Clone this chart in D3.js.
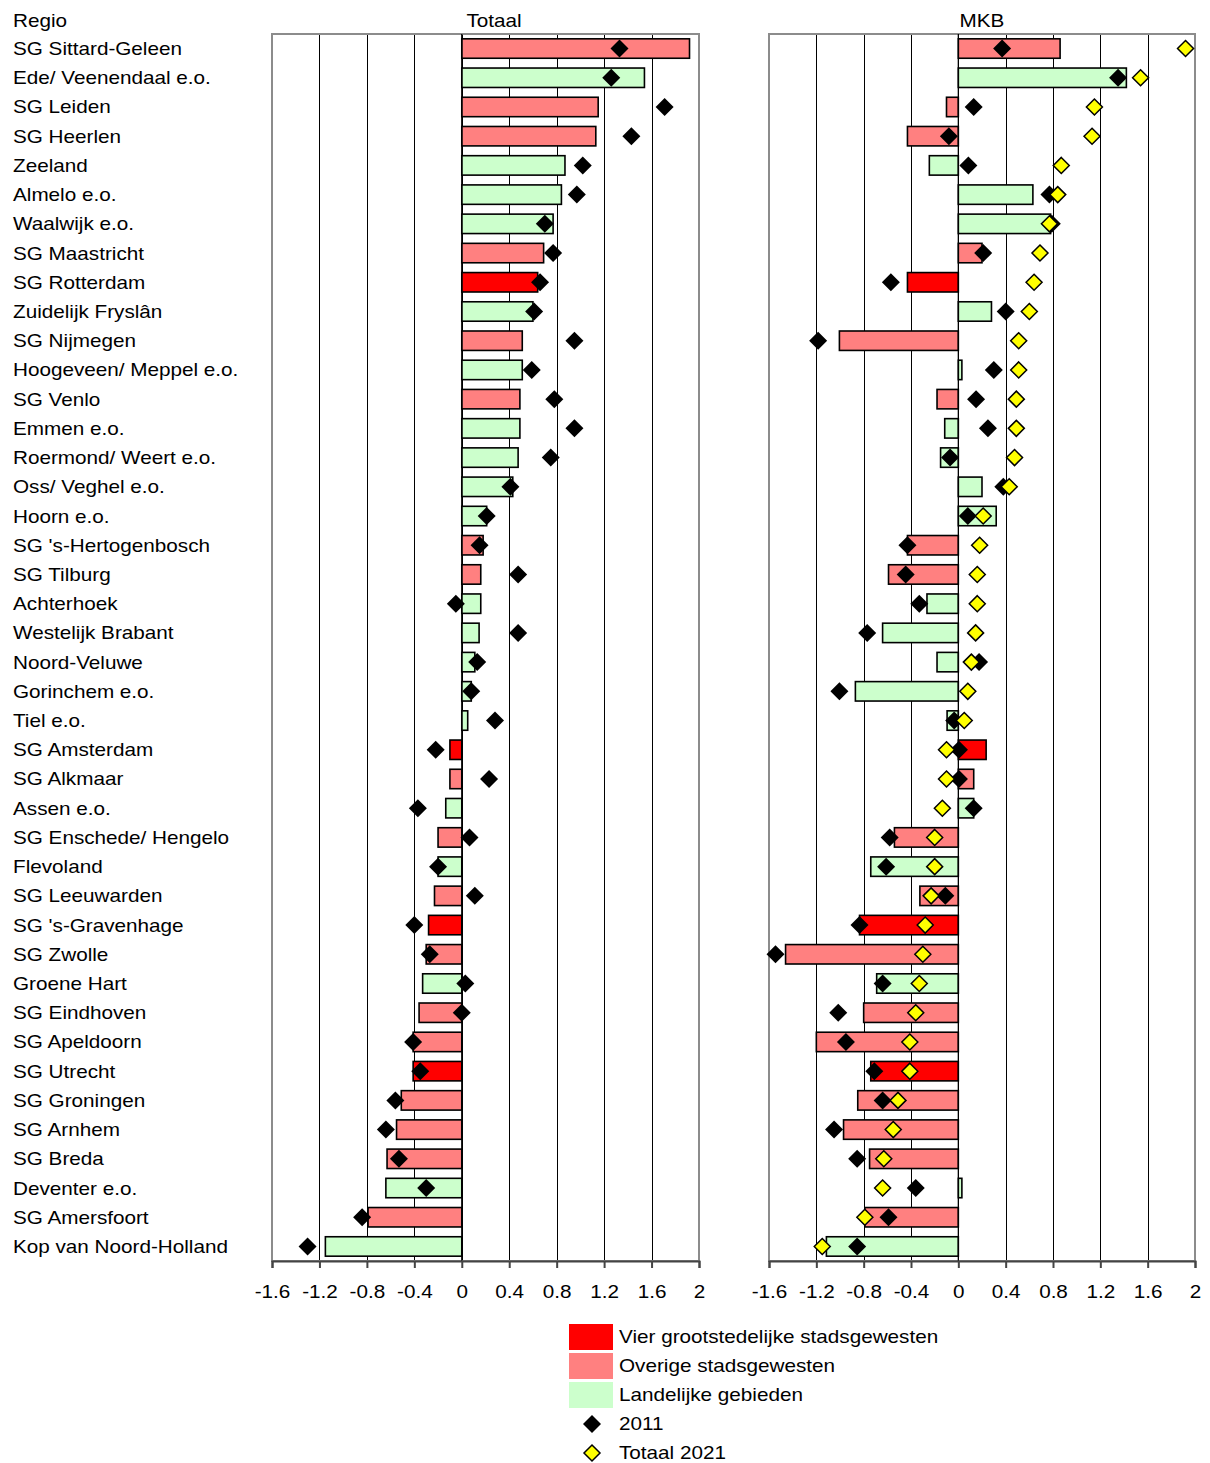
<!DOCTYPE html>
<html>
<head>
<meta charset="utf-8">
<script src="https://cdn.jsdelivr.net/npm/d3@7"></script>
<style>
  html, body { margin: 0; padding: 0; background: #fff; }
  svg { display: block; font-family: "Liberation Sans", Arial, sans-serif; }
</style>
</head>
<body>
<svg id="chart" width="1210" height="1463"></svg>
<script>
const regions = [
  "SG Sittard-Geleen", "Ede/ Veenendaal e.o.", "SG Leiden", "SG Heerlen", "Zeeland",
  "Almelo e.o.", "Waalwijk e.o.", "SG Maastricht", "SG Rotterdam", "Zuidelijk Fryslân",
  "SG Nijmegen", "Hoogeveen/ Meppel e.o.", "SG Venlo", "Emmen e.o.", "Roermond/ Weert e.o.",
  "Oss/ Veghel e.o.", "Hoorn e.o.", "SG 's-Hertogenbosch", "SG Tilburg", "Achterhoek",
  "Westelijk Brabant", "Noord-Veluwe", "Gorinchem e.o.", "Tiel e.o.", "SG Amsterdam",
  "SG Alkmaar", "Assen e.o.", "SG Enschede/ Hengelo", "Flevoland", "SG Leeuwarden",
  "SG 's-Gravenhage", "SG Zwolle", "Groene Hart", "SG Eindhoven", "SG Apeldoorn",
  "SG Utrecht", "SG Groningen", "SG Arnhem", "SG Breda", "Deventer e.o.",
  "SG Amersfoort", "Kop van Noord-Holland"
];
// V = Vier grootstedelijke, O = Overige stadsgewesten, L = Landelijke gebieden
const regionTypes = [
  "O","L","O","O","L","L","L","O","V","L",
  "O","L","O","L","L","L","L","O","O","L",
  "L","L","L","L","V","O","L","O","L","O",
  "V","O","L","O","O","V","O","O","O","L",
  "O","L"
];
const totaal2021 = [
  1.92, 1.54, 1.15, 1.13, 0.87, 0.84, 0.77, 0.69, 0.64, 0.60,
  0.51, 0.51, 0.49, 0.49, 0.475, 0.43, 0.21, 0.18, 0.16, 0.16,
  0.146, 0.11, 0.08, 0.05, -0.10, -0.10, -0.135, -0.20, -0.20, -0.23,
  -0.28, -0.30, -0.33, -0.36, -0.41, -0.41, -0.51, -0.55, -0.63, -0.64,
  -0.79, -1.15
];
const totaal2011 = [
  1.33, 1.26, 1.71, 1.43, 1.02, 0.97, 0.70, 0.77, 0.66, 0.61,
  0.95, 0.59, 0.78, 0.95, 0.75, 0.41, 0.21, 0.15, 0.475, -0.05,
  0.475, 0.13, 0.08, 0.28, -0.22, 0.23, -0.37, 0.065, -0.20, 0.11,
  -0.40, -0.27, 0.03, 0.0, -0.41, -0.35, -0.56, -0.64, -0.53, -0.30,
  -0.84, -1.30
];
const mkb2021 = [
  0.86, 1.42, -0.10, -0.43, -0.245, 0.63, 0.78, 0.20, -0.43, 0.28,
  -1.005, 0.03, -0.18, -0.115, -0.15, 0.20, 0.32, -0.43, -0.59, -0.265,
  -0.64, -0.18, -0.87, -0.095, 0.235, 0.13, 0.13, -0.54, -0.74, -0.325,
  -0.835, -1.46, -0.69, -0.80, -1.20, -0.74, -0.85, -0.97, -0.75, 0.03,
  -0.79, -1.115
];
const mkb2011 = [
  0.37, 1.35, 0.13, -0.08, 0.085, 0.77, 0.79, 0.21, -0.57, 0.40,
  -1.185, 0.30, 0.15, 0.25, -0.07, 0.38, 0.08, -0.43, -0.445, -0.33,
  -0.77, 0.175, -1.005, -0.035, 0.005, 0.005, 0.13, -0.58, -0.61, -0.11,
  -0.835, -1.545, -0.64, -1.015, -0.95, -0.71, -0.64, -1.05, -0.855, -0.36,
  -0.59, -0.855
];
const tickValues = [-1.6, -1.2, -0.8, -0.4, 0, 0.4, 0.8, 1.2, 1.6, 2];
const panelTitles = ["Totaal", "MKB"];
const legendLabels = ["Vier grootstedelijke stadsgewesten", "Overige stadsgewesten", "Landelijke gebieden", "2011", "Totaal 2021"];

const typeColor = { V: "#FF0000", O: "#FF8080", L: "#CCFFCC" };
const STRETCH = 1.15;
const FONT = 18;

const svg = d3.select("#chart");
const plotTop = 34, plotBottom = 1261;

const y = d3.scaleBand().domain(regions).range([plotTop, plotBottom]).paddingInner(0.335).paddingOuter(0.165);

function stretchedText(g, x, yy, txt, anchor) {
  return g.append("text")
    .attr("transform", `translate(${x},${yy}) scale(${STRETCH},1)`)
    .attr("text-anchor", anchor || "start")
    .attr("font-size", FONT)
    .attr("fill", "#000")
    .text(txt);
}

// Region labels
stretchedText(svg, 13, 27, "Regio");
regions.forEach(r => {
  stretchedText(svg, 13, y(r) + y.bandwidth() / 2 + 6.5, r);
});

function diamondPath(r) {
  return `M0,${-r}L${r},0L0,${r}L${-r},0Z`;
}

function drawPanel(x0, x1, title, barVals, blackVals, yellowVals, titleX) {
  const x = d3.scaleLinear().domain([-1.6, 2]).range([x0, x1]);
  const g = svg.append("g");

  // gridlines
  g.selectAll("line.grid").data(tickValues.filter(t => t > -1.6 && t < 2)).join("line")
    .attr("class", "grid")
    .attr("x1", d => Math.round(x(d)) + 0.5).attr("x2", d => Math.round(x(d)) + 0.5)
    .attr("y1", plotTop).attr("y2", plotBottom)
    .attr("stroke", "#000").attr("stroke-width", 1);

  // frame
  g.append("rect").attr("x", x0).attr("y", plotTop).attr("width", x1 - x0).attr("height", plotBottom - plotTop)
    .attr("fill", "none").attr("stroke", "#8c8c8c").attr("stroke-width", 2);

  // bars
  g.selectAll("rect.bar").data(regions).join("rect")
    .attr("class", "bar")
    .attr("x", (d, i) => Math.min(x(0), x(barVals[i])))
    .attr("width", (d, i) => Math.abs(x(barVals[i]) - x(0)))
    .attr("y", d => y(d))
    .attr("height", y.bandwidth())
    .attr("fill", (d, i) => typeColor[regionTypes[i]])
    .attr("stroke", "#000").attr("stroke-width", 1.6);

  // zero line on top
  g.append("line").attr("x1", x(0)).attr("x2", x(0)).attr("y1", plotTop).attr("y2", plotBottom)
    .attr("stroke", "#000").attr("stroke-width", 1.3);

  // black diamonds (2011)
  g.selectAll("path.d2011").data(regions).join("path")
    .attr("class", "d2011")
    .attr("d", diamondPath(9))
    .attr("transform", (d, i) => `translate(${x(blackVals[i])},${y(d) + y.bandwidth() / 2})`)
    .attr("fill", "#000");

  // yellow diamonds (Totaal 2021)
  if (yellowVals) {
    g.selectAll("path.d2021").data(regions).join("path")
      .attr("class", "d2021")
      .attr("d", diamondPath(8))
      .attr("transform", (d, i) => `translate(${x(yellowVals[i])},${y(d) + y.bandwidth() / 2})`)
      .attr("fill", "#FFFF00").attr("stroke", "#000").attr("stroke-width", 1.5);
  }

  // axis
  const axis = d3.axisBottom(x).tickValues(tickValues).tickSize(7).tickSizeOuter(7)
    .tickFormat(d => String(+d.toFixed(1)));
  const ag = g.append("g").attr("transform", `translate(0,${plotBottom})`).call(axis);
  ag.select(".domain").attr("stroke", "#444").attr("stroke-width", 2);
  ag.selectAll(".tick line").attr("stroke", "#444").attr("stroke-width", 2);
  ag.selectAll(".tick text")
    .attr("font-size", FONT)
    .attr("font-family", "Liberation Sans, Arial, sans-serif")
    .attr("fill", "#000")
    .attr("y", 0).attr("dy", 0)
    .attr("transform", `translate(0,37) scale(${STRETCH},1)`);

  // title
  stretchedText(g, titleX, 27, title, "middle");
}

drawPanel(272, 699, panelTitles[0], totaal2021, totaal2011, null, 494);
drawPanel(769, 1195, panelTitles[1], mkb2021, mkb2011, totaal2021, 982);

// Legend
const lg = svg.append("g");
const swatchTypes = ["V", "O", "L"];
const legY = [1324, 1353, 1382];
swatchTypes.forEach((t, i) => {
  lg.append("rect").attr("x", 569).attr("y", legY[i]).attr("width", 44).attr("height", 26)
    .attr("fill", typeColor[t]);
  stretchedText(lg, 619, legY[i] + 19, legendLabels[i]);
});
lg.append("path").attr("d", diamondPath(9)).attr("transform", "translate(592,1424)").attr("fill", "#000");
stretchedText(lg, 619, 1430, legendLabels[3]);
lg.append("path").attr("d", diamondPath(8)).attr("transform", "translate(592,1453)")
  .attr("fill", "#FFFF00").attr("stroke", "#000").attr("stroke-width", 1.5);
stretchedText(lg, 619, 1459, legendLabels[4]);
</script>
</body>
</html>
